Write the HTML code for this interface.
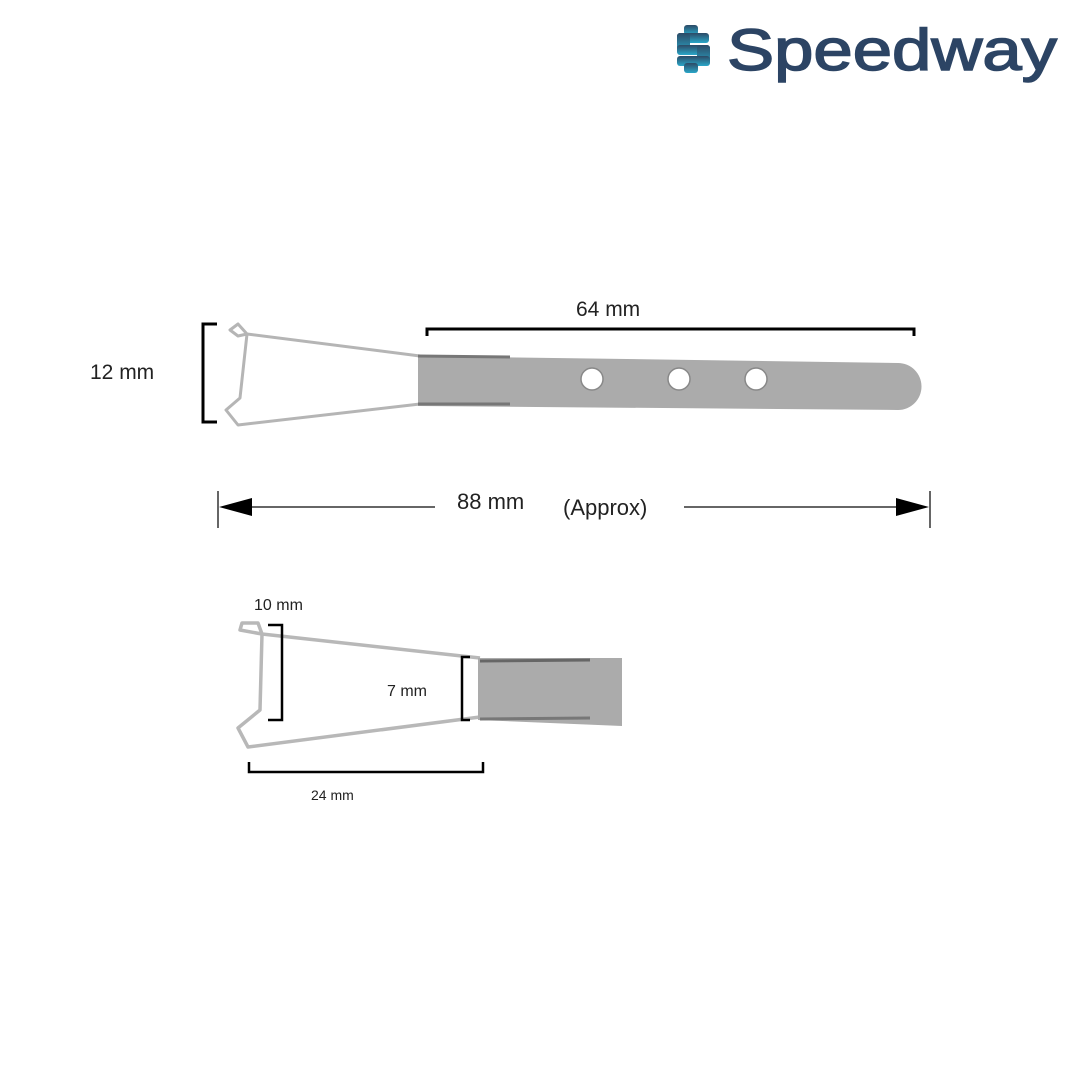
<!DOCTYPE html>
<html><head><meta charset="utf-8"><style>
html,body{margin:0;padding:0;background:#fff;}
svg{display:block}
text{font-family:"Liberation Sans",sans-serif;}
</style></head><body>
<svg width="1080" height="1080" viewBox="0 0 1080 1080" xmlns="http://www.w3.org/2000/svg">
<defs>
<linearGradient id="lg" x1="0" y1="0" x2="0" y2="1">
<stop offset="0" stop-color="#2c4a66"/><stop offset="1" stop-color="#2aa7c9"/></linearGradient>
</defs>
<g fill="url(#lg)">
<rect x="684" y="25" width="14" height="10" rx="3"/>
<rect x="677" y="33" width="32" height="10" rx="3"/>
<rect x="677" y="33" width="13" height="20" rx="3"/>
<rect x="677" y="45" width="33" height="10" rx="3"/>
<rect x="697" y="45" width="13" height="20" rx="3"/>
<rect x="677" y="56" width="33" height="10" rx="3"/>
<rect x="684" y="63" width="14" height="10" rx="3"/>
</g>
<text x="727" y="70" font-size="58" fill="#2c4464" stroke="#2c4464" stroke-width="1.5" textLength="330" lengthAdjust="spacingAndGlyphs">Speedway</text>

<g fill="none" stroke="#000" stroke-width="3">
<path d="M217 324 H203 V422 H217"/>
<path d="M427 336 V329 H914 V336"/>
</g>
<text x="90" y="379" font-size="21" fill="#222">12 mm</text>
<text x="576" y="316" font-size="21" fill="#222">64 mm</text>
<g fill="none" stroke="#b5b5b5" stroke-width="3" stroke-linejoin="round">
<path d="M420 356 L247 334 L238 324 L230 330 L238 336 L247 334 L240 398 L226 410 L238 425 L420 404"/>
</g>
<path d="M418 356 L898 363 A23.5 23.5 0 0 1 898 410 L418 406 Z" fill="#ababab"/>
<path d="M418 356 L510 357" stroke="#777" stroke-width="3"/>
<path d="M418 404 L510 404" stroke="#777" stroke-width="3"/>
<g fill="#fff" stroke="#888" stroke-width="1.5">
<circle cx="592" cy="379" r="11"/><circle cx="679" cy="379" r="11"/><circle cx="756" cy="379" r="11"/>
</g>

<g stroke="#333" stroke-width="1.5">
<line x1="218" y1="491" x2="218" y2="528"/>
<line x1="930" y1="491" x2="930" y2="528"/>
<line x1="240" y1="507" x2="435" y2="507"/>
<line x1="684" y1="507" x2="905" y2="507"/>
</g>
<path d="M219 507 L252 498 L252 516 Z" fill="#000"/>
<path d="M929 507 L896 498 L896 516 Z" fill="#000"/>
<text x="457" y="509" font-size="22" fill="#222">88 mm</text>
<text x="563" y="515" font-size="22" fill="#222">(Approx)</text>

<g fill="none" stroke="#b8b8b8" stroke-width="3.5" stroke-linejoin="round">
<path d="M480 658 L262 634 L258 623 L242 623 L240 630 L262 634 L260 710 L238 728 L248 747 L480 717"/>
</g>
<path d="M478 658 L622 658 L622 726 L478 720 Z" fill="#ababab"/>
<path d="M480 661 L590 660" stroke="#666" stroke-width="3"/>
<path d="M480 719 L590 718" stroke="#777" stroke-width="3"/>
<g fill="none" stroke="#000" stroke-width="2.5">
<path d="M268 625 H282 V720 H268"/>
<path d="M470 657 H462 V720 H470"/>
<path d="M249 762 V772 H483 V762"/>
</g>
<text x="254" y="610" font-size="16" fill="#222">10 mm</text>
<text x="387" y="696" font-size="16" fill="#222">7 mm</text>
<text x="311" y="800" font-size="14" fill="#222">24 mm</text>
</svg>
</body></html>
